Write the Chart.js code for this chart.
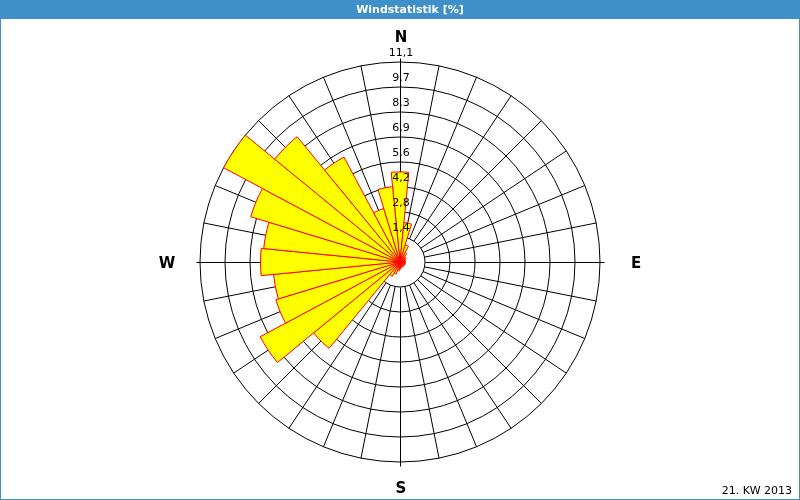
<!DOCTYPE html>
<html>
<head>
<meta charset="utf-8">
<title>Windstatistik</title>
<script src="https://cdn.jsdelivr.net/npm/chart.js@4.4.1/dist/chart.umd.min.js"></script>
<style>
  html, body { margin: 0; padding: 0; background: #fff; }
  canvas { display: block; }
</style>
</head>
<body>
<canvas id="windChart" width="800" height="500"></canvas>
<script>
'use strict';
// 32 Richtungen, im Uhrzeigersinn ab Nord
let directions = ['N','NzO','NNO','NOzN','NO','NOzO','ONO','OzN','O','OzS','OSO','SOzO','SO','SOzS','SSO','SzO',
                  'S','SzW','SSW','SWzS','SW','SWzW','WSW','WzS','W','WzN','WNW','NWzW','NW','NWzN','NNW','NzW'];
let frequency = [5.0, 2.2, 1.0, 0.6, 0.4, 0.4, 0.3, 0.3, 0.3, 0.3, 0.3, 0.3, 0.3, 0.3, 0.3, 0.3,
                 0.4, 0.5, 0.7, 0.9, 6.2, 8.8, 7.2, 7.05, 7.74, 7.6, 8.66, 11.1, 9.0, 6.6, 3.1, 4.2];
let ringValues = [0, 1.3875, 2.775, 4.1625, 5.55, 6.9375, 8.325, 9.7125, 11.1];
let ringLabels = ['', '1,4', '2,8', '4,2', '5,6', '6,9', '8,3', '9,7', '11,1'];
let compassLabels = ['N', 'E', 'S', 'W'];
let titleText = 'Windstatistik [%]';
let footText = '21. KW 2013';

let frameBlue = '#3f8fc8';
let sectorAngle = 360 / directions.length;

Chart.defaults.font.family = "'DejaVu Sans', Verdana, sans-serif";

let rosePlugin = {
  id: 'rose',
  beforeDraw(chart) {
    let ctx = chart.ctx;
    ctx.save();
    ctx.fillStyle = '#fff';
    ctx.fillRect(0, 0, chart.width, chart.height);
    ctx.fillStyle = frameBlue;
    ctx.fillRect(0, 0, chart.width, 19);
    // Titel in der blauen Leiste
    ctx.fillStyle = '#fff';
    ctx.font = "bold 11px 'DejaVu Sans'";
    ctx.textAlign = 'center';
    ctx.textBaseline = 'middle';
    ctx.fillText(titleText, 410, 10);
    ctx.restore();
  },
  beforeDatasetsDraw(chart) {
    // Speichen vom innersten Ring nach aussen
    let r = chart.scales.r;
    let ctx = chart.ctx;
    let inner = r.getDistanceFromCenterForValue(ringValues[1]);
    let outer = r.getDistanceFromCenterForValue(ringValues[ringValues.length - 1]);
    ctx.save();
    ctx.strokeStyle = '#000';
    ctx.lineWidth = 1;
    for (let i = 0; i < directions.length; i++) {
      let a = (i * sectorAngle - 90) * Math.PI / 180;
      let end = (i % 8 === 0) ? outer + 4 : outer;
      let ox = (i % 8 === 0) ? 0.5 : 0;
      ctx.beginPath();
      ctx.moveTo(r.xCenter + ox + inner * Math.cos(a), r.yCenter + ox + inner * Math.sin(a));
      ctx.lineTo(r.xCenter + ox + end * Math.cos(a), r.yCenter + ox + end * Math.sin(a));
      ctx.stroke();
    }
    ctx.restore();
  },
  afterDatasetsDraw(chart) {
    let r = chart.scales.r;
    let ctx = chart.ctx;
    let outer = r.getDistanceFromCenterForValue(ringValues[ringValues.length - 1]);
    ctx.save();
    ctx.fillStyle = '#000';
    ctx.textAlign = 'center';
    ctx.textBaseline = 'middle';
    ctx.font = "11px 'DejaVu Sans'";
    for (let i = 1; i < ringValues.length; i++) {
      let d = r.getDistanceFromCenterForValue(ringValues[i]);
      ctx.fillText(ringLabels[i], r.xCenter + 1, r.yCenter - d - 9);
    }
    ctx.font = "bold 15px 'DejaVu Sans'";
    ctx.fillText(compassLabels[0], r.xCenter + 1, r.yCenter - outer - 24);
    ctx.fillText(compassLabels[1], r.xCenter + outer + 36, r.yCenter + 2);
    ctx.fillText(compassLabels[2], r.xCenter + 1, r.yCenter + outer + 27);
    ctx.fillText(compassLabels[3], r.xCenter - outer - 33, r.yCenter + 2);
    ctx.restore();
  },
  afterDraw(chart) {
    let ctx = chart.ctx;
    ctx.save();
    ctx.strokeStyle = frameBlue;
    ctx.lineWidth = 1;
    ctx.strokeRect(0.5, 0.5, chart.width - 1, chart.height - 1);
    ctx.restore();
  }
};

let ctx = document.getElementById('windChart').getContext('2d');
let windChart = new Chart(ctx, {
  type: 'polarArea',
  data: {
    labels: directions,
    datasets: [{
      label: 'Windrichtung [%]',
      data: frequency,
      backgroundColor: '#ffff00',
      borderColor: '#ff0000',
      borderWidth: 1
    }]
  },
  options: {
    responsive: false,
    animation: false,
    devicePixelRatio: 1,
    layout: { padding: { left: 8, right: 8, top: 62, bottom: 0 } },
    scales: {
      r: {
        min: 0,
        max: 11.1,
        startAngle: -sectorAngle / 2,
        afterBuildTicks(scale) {
          scale.ticks = ringValues.map(v => ({ value: v }));
        },
        ticks: { display: false },
        grid: { display: true, circular: true, color: '#000', lineWidth: 1 },
        angleLines: { display: false },
        pointLabels: { display: false }
      }
    },
    plugins: {
      legend: { display: false },
      tooltip: { enabled: false },
      title: { display: false },
      subtitle: {
        display: true,
        text: footText,
        position: 'bottom',
        align: 'end',
        color: '#000',
        font: { size: 11, weight: 'normal', lineHeight: '14px' },
        padding: { top: 22, bottom: 2 }
      }
    }
  },
  plugins: [rosePlugin]
});
</script>
</body>
</html>
